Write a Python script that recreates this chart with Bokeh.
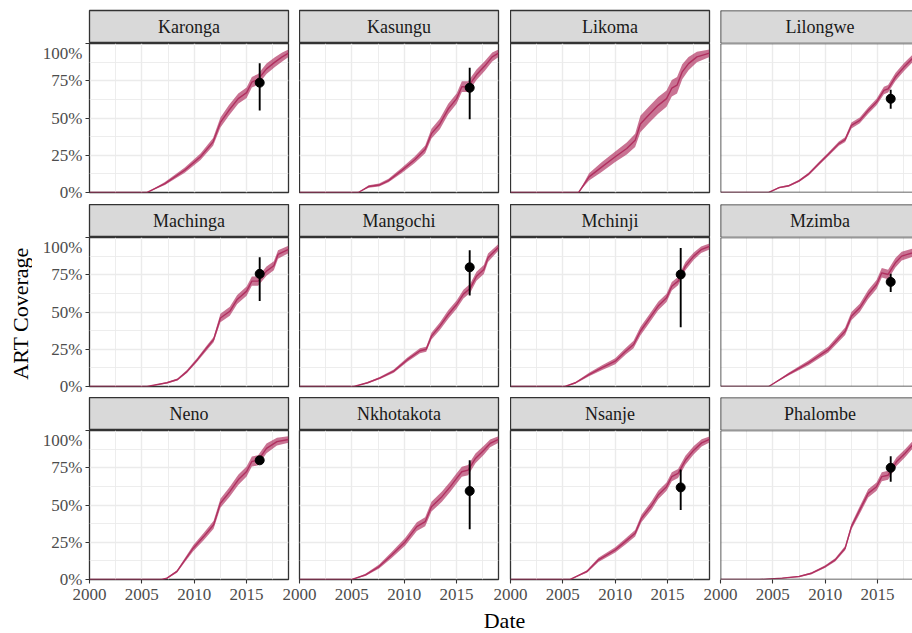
import math
from bokeh.plotting import figure
from bokeh.layouts import row, column
from bokeh.models import Range1d, LinearAxis, FixedTicker, Grid, Span, ColumnDataSource
from bokeh.core.properties import value
from bokeh.embed import file_html
from bokeh.resources import INLINE

# ---------------- data ----------------
DISTRICTS = ["Karonga", "Kasungu", "Likoma", "Lilongwe",
             "Machinga", "Mangochi", "Mchinji", "Mzimba",
             "Neno", "Nkhotakota", "Nsanje", "Phalombe"]

KARONGA_YEAR = [2000, 2005.5, 2007.2, 2009.1, 2010.6, 2011.8, 2012.5, 2013.3, 2014.2, 2015.0, 2015.5, 2016.1, 2016.9, 2017.7, 2018.4, 2019.0]
KARONGA_MID = [0, 0, 0.06, 0.15, 0.24, 0.34, 0.47, 0.55, 0.63, 0.67, 0.74, 0.76, 0.83, 0.875, 0.91, 0.935]
KARONGA_LO = [0, 0, 0.05, 0.132, 0.218, 0.314, 0.437, 0.515, 0.595, 0.635, 0.704, 0.724, 0.795, 0.842, 0.88, 0.91]
KARONGA_HI = [0, 0, 0.07, 0.168, 0.262, 0.366, 0.503, 0.585, 0.665, 0.705, 0.776, 0.796, 0.865, 0.908, 0.94, 0.96]

KASUNGU_YEAR = [2000, 2005.6, 2006.6, 2007.6, 2008.5, 2009.8, 2011.0, 2012.0, 2012.6, 2013.4, 2014.2, 2015.0, 2015.5, 2016.1, 2016.9, 2017.7, 2018.4, 2019.0]
KASUNGU_MID = [0, 0, 0.04, 0.05, 0.08, 0.15, 0.22, 0.29, 0.395, 0.46, 0.56, 0.63, 0.71, 0.71, 0.79, 0.85, 0.91, 0.935]
KASUNGU_LO = [0, 0, 0.032, 0.04, 0.068, 0.132, 0.198, 0.264, 0.362, 0.425, 0.525, 0.595, 0.674, 0.674, 0.755, 0.817, 0.88, 0.91]
KASUNGU_HI = [0, 0, 0.048, 0.06, 0.092, 0.168, 0.242, 0.316, 0.428, 0.495, 0.595, 0.665, 0.746, 0.746, 0.825, 0.883, 0.94, 0.96]

LIKOMA_YEAR = [2000, 2006.5, 2007.5, 2008.7, 2010.0, 2011.1, 2011.9, 2012.4, 2013.2, 2014.1, 2014.9, 2015.4, 2015.9, 2016.4, 2017.0, 2017.8, 2019.0]
LIKOMA_MID = [0, 0, 0.105, 0.17, 0.24, 0.295, 0.35, 0.46, 0.52, 0.585, 0.63, 0.70, 0.72, 0.81, 0.865, 0.91, 0.935]
LIKOMA_LO = [0, 0, 0.08, 0.137, 0.204, 0.255, 0.305, 0.405, 0.464, 0.529, 0.575, 0.645, 0.665, 0.76, 0.82, 0.875, 0.91]
LIKOMA_HI = [0, 0, 0.13, 0.203, 0.276, 0.335, 0.395, 0.515, 0.576, 0.641, 0.685, 0.755, 0.775, 0.86, 0.91, 0.945, 0.96]

LILONGWE_YEAR = [2000, 2004.6, 2005.6, 2006.5, 2007.5, 2008.4, 2009.4, 2010.3, 2011.3, 2011.9, 2012.5, 2013.3, 2014.1, 2014.9, 2015.6, 2016.0, 2016.7, 2017.5, 2018.3, 2019.0]
LILONGWE_MID = [0, 0, 0.033, 0.045, 0.078, 0.123, 0.194, 0.257, 0.328, 0.355, 0.45, 0.484, 0.55, 0.607, 0.685, 0.696, 0.775, 0.84, 0.897, 0.93]
LILONGWE_LO = [0, 0, 0.028, 0.039, 0.07, 0.114, 0.183, 0.245, 0.314, 0.339, 0.43, 0.464, 0.529, 0.585, 0.66, 0.671, 0.748, 0.813, 0.872, 0.908]
LILONGWE_HI = [0, 0, 0.038, 0.051, 0.086, 0.132, 0.205, 0.269, 0.342, 0.371, 0.47, 0.504, 0.571, 0.629, 0.71, 0.721, 0.802, 0.867, 0.922, 0.952]

MACHINGA_YEAR = [2000, 2005.5, 2007.4, 2008.4, 2009.3, 2010.3, 2011.2, 2011.85, 2012.5, 2013.4, 2014.1, 2015.0, 2015.5, 2016.1, 2016.9, 2017.6, 2018.0, 2019.0]
MACHINGA_MID = [0, 0, 0.025, 0.047, 0.10, 0.18, 0.26, 0.315, 0.46, 0.505, 0.584, 0.64, 0.707, 0.707, 0.774, 0.81, 0.886, 0.92]
MACHINGA_LO = [0, 0, 0.02, 0.04, 0.09, 0.167, 0.244, 0.297, 0.432, 0.475, 0.554, 0.609, 0.676, 0.676, 0.743, 0.78, 0.858, 0.895]
MACHINGA_HI = [0, 0, 0.03, 0.054, 0.11, 0.193, 0.276, 0.333, 0.488, 0.535, 0.614, 0.671, 0.738, 0.738, 0.805, 0.84, 0.914, 0.945]

MANGOCHI_YEAR = [2000, 2005.2, 2006.5, 2007.7, 2009.0, 2010.3, 2011.5, 2012.1, 2012.6, 2013.4, 2014.2, 2015.0, 2015.65, 2016.3, 2016.9, 2017.6, 2018.0, 2019.0]
MANGOCHI_MID = [0, 0, 0.025, 0.058, 0.103, 0.18, 0.24, 0.25, 0.338, 0.405, 0.483, 0.55, 0.62, 0.66, 0.74, 0.785, 0.864, 0.935]
MANGOCHI_LO = [0, 0, 0.02, 0.05, 0.092, 0.166, 0.223, 0.233, 0.316, 0.38, 0.455, 0.522, 0.59, 0.63, 0.71, 0.755, 0.836, 0.913]
MANGOCHI_HI = [0, 0, 0.03, 0.066, 0.114, 0.194, 0.257, 0.267, 0.36, 0.43, 0.511, 0.578, 0.65, 0.69, 0.77, 0.815, 0.892, 0.957]

MCHINJI_YEAR = [2000, 2005.2, 2006.2, 2007.5, 2008.7, 2010.0, 2011.0, 2011.75, 2012.4, 2013.3, 2014.1, 2014.9, 2015.4, 2016.0, 2016.7, 2017.5, 2018.2, 2019.0]
MCHINJI_MID = [0, 0, 0.025, 0.08, 0.125, 0.17, 0.237, 0.282, 0.371, 0.46, 0.54, 0.595, 0.673, 0.707, 0.808, 0.875, 0.918, 0.94]
MCHINJI_LO = [0, 0, 0.019, 0.068, 0.109, 0.15, 0.215, 0.257, 0.343, 0.432, 0.512, 0.567, 0.645, 0.679, 0.78, 0.85, 0.896, 0.92]
MCHINJI_HI = [0, 0, 0.031, 0.092, 0.141, 0.19, 0.259, 0.307, 0.399, 0.488, 0.568, 0.623, 0.701, 0.735, 0.836, 0.9, 0.94, 0.96]

MZIMBA_YEAR = [2000, 2004.6, 2006.5, 2008.4, 2010.3, 2011.9, 2012.5, 2013.3, 2014.1, 2014.9, 2015.4, 2016.0, 2016.7, 2017.3, 2018.3, 2019.0]
MZIMBA_MID = [0, 0, 0.083, 0.159, 0.248, 0.371, 0.472, 0.528, 0.617, 0.685, 0.763, 0.752, 0.83, 0.875, 0.897, 0.92]
MZIMBA_LO = [0, 0, 0.073, 0.143, 0.228, 0.346, 0.444, 0.5, 0.587, 0.655, 0.731, 0.72, 0.798, 0.845, 0.869, 0.895]
MZIMBA_HI = [0, 0, 0.093, 0.175, 0.268, 0.396, 0.5, 0.556, 0.647, 0.715, 0.795, 0.784, 0.862, 0.905, 0.925, 0.945]

NENO_YEAR = [2000, 2006.9, 2007.4, 2008.35, 2009.0, 2009.9, 2010.9, 2011.85, 2012.5, 2013.4, 2014.2, 2015.0, 2015.5, 2016.1, 2016.9, 2017.9, 2019.0]
NENO_MID = [0, 0, 0.009, 0.054, 0.12, 0.21, 0.288, 0.367, 0.512, 0.59, 0.669, 0.725, 0.792, 0.80, 0.88, 0.925, 0.94]
NENO_LO = [0, 0, 0.005, 0.046, 0.107, 0.19, 0.264, 0.34, 0.482, 0.557, 0.635, 0.691, 0.758, 0.766, 0.848, 0.899, 0.918]
NENO_HI = [0, 0, 0.013, 0.062, 0.133, 0.23, 0.312, 0.394, 0.542, 0.623, 0.703, 0.759, 0.826, 0.834, 0.912, 0.951, 0.962]

NKHOTAKOTA_YEAR = [2000, 2005.0, 2006.3, 2007.6, 2008.8, 2010.1, 2011.2, 2012.0, 2012.6, 2013.6, 2014.4, 2015.0, 2015.5, 2016.1, 2016.8, 2017.6, 2018.2, 2019.0]
NKHOTAKOTA_MID = [0, 0, 0.031, 0.087, 0.165, 0.254, 0.355, 0.388, 0.489, 0.556, 0.623, 0.679, 0.723, 0.734, 0.8125, 0.868, 0.913, 0.94]
NKHOTAKOTA_LO = [0, 0, 0.024, 0.074, 0.145, 0.228, 0.325, 0.358, 0.456, 0.522, 0.589, 0.645, 0.689, 0.7, 0.7795, 0.838, 0.887, 0.918]
NKHOTAKOTA_HI = [0, 0, 0.038, 0.1, 0.185, 0.28, 0.385, 0.418, 0.522, 0.59, 0.657, 0.713, 0.757, 0.768, 0.8455, 0.898, 0.939, 0.962]

NSANJE_YEAR = [2000, 2005.7, 2007.3, 2008.4, 2010.0, 2010.95, 2011.9, 2012.5, 2013.5, 2014.1, 2014.9, 2015.4, 2016.0, 2016.7, 2017.5, 2018.25, 2019.0]
NSANJE_MID = [0, 0, 0.054, 0.132, 0.199, 0.254, 0.31, 0.41, 0.50, 0.567, 0.623, 0.69, 0.712, 0.80, 0.868, 0.917, 0.94]
NSANJE_LO = [0, 0, 0.046, 0.118, 0.182, 0.234, 0.288, 0.385, 0.472, 0.539, 0.595, 0.66, 0.682, 0.77, 0.84, 0.893, 0.92]
NSANJE_HI = [0, 0, 0.062, 0.146, 0.216, 0.274, 0.332, 0.435, 0.528, 0.595, 0.651, 0.72, 0.742, 0.83, 0.896, 0.941, 0.96]

PHALOMBE_YEAR = [2000, 2003.7, 2005.9, 2007.5, 2008.7, 2010.0, 2010.95, 2011.9, 2012.5, 2013.3, 2014.1, 2014.9, 2015.4, 2016.0, 2016.8, 2017.6, 2018.3, 2019.0]
PHALOMBE_MID = [0, 0, 0.009, 0.02, 0.042, 0.087, 0.132, 0.21, 0.355, 0.467, 0.578, 0.623, 0.69, 0.70, 0.79, 0.846, 0.90, 0.93]
PHALOMBE_LO = [0, 0, 0.006, 0.016, 0.036, 0.079, 0.121, 0.196, 0.335, 0.442, 0.55, 0.595, 0.66, 0.67, 0.762, 0.819, 0.875, 0.908]
PHALOMBE_HI = [0, 0, 0.012, 0.024, 0.048, 0.095, 0.143, 0.224, 0.375, 0.492, 0.606, 0.651, 0.72, 0.73, 0.818, 0.873, 0.925, 0.952]

# survey estimates (None = no survey point)
POINT_YEAR = [2016.25, 2016.25, None, 2016.25, 2016.25, 2016.25, 2016.25, 2016.25, 2016.25, 2016.25, 2016.25, 2016.25]
POINT_VALUE = [0.737, 0.703, None, 0.629, 0.756, 0.80, 0.752, 0.702, 0.80, 0.594, 0.618, 0.75]
POINT_LO = [0.551, 0.491, None, 0.5625, 0.573, 0.611, 0.398, 0.635, 0.795, 0.337, 0.4665, 0.656]
POINT_HI = [0.868, 0.837, None, 0.69, 0.868, 0.915, 0.93, 0.756, 0.81, 0.80, 0.739, 0.828]

X_TICKS = [2000, 2005, 2010, 2015]
X_TICK_LABELS = ["2000", "2005", "2010", "2015"]
X_MINOR = [2002.5, 2007.5, 2012.5, 2017.5]
Y_TICKS = [0, 0.25, 0.5, 0.75, 1.0]
Y_TICK_LABELS = ["0%", "25%", "50%", "75%", "100%"]
Y_MINOR = [0.125, 0.375, 0.625, 0.875]
X_START, X_END = 2000, 2019

SERIES = {
    "Karonga": (KARONGA_YEAR, KARONGA_MID, KARONGA_LO, KARONGA_HI),
    "Kasungu": (KASUNGU_YEAR, KASUNGU_MID, KASUNGU_LO, KASUNGU_HI),
    "Likoma": (LIKOMA_YEAR, LIKOMA_MID, LIKOMA_LO, LIKOMA_HI),
    "Lilongwe": (LILONGWE_YEAR, LILONGWE_MID, LILONGWE_LO, LILONGWE_HI),
    "Machinga": (MACHINGA_YEAR, MACHINGA_MID, MACHINGA_LO, MACHINGA_HI),
    "Mangochi": (MANGOCHI_YEAR, MANGOCHI_MID, MANGOCHI_LO, MANGOCHI_HI),
    "Mchinji": (MCHINJI_YEAR, MCHINJI_MID, MCHINJI_LO, MCHINJI_HI),
    "Mzimba": (MZIMBA_YEAR, MZIMBA_MID, MZIMBA_LO, MZIMBA_HI),
    "Neno": (NENO_YEAR, NENO_MID, NENO_LO, NENO_HI),
    "Nkhotakota": (NKHOTAKOTA_YEAR, NKHOTAKOTA_MID, NKHOTAKOTA_LO, NKHOTAKOTA_HI),
    "Nsanje": (NSANJE_YEAR, NSANJE_MID, NSANJE_LO, NSANJE_HI),
    "Phalombe": (PHALOMBE_YEAR, PHALOMBE_MID, PHALOMBE_LO, PHALOMBE_HI),
}

# ---------------- style / layout ----------------
FONT = "Liberation Serif"
MAROON = "#B03060"
BORDER = "#333333"
GRID_C = "#EBEBEB"
STRIP_BG = "#D9D9D9"
TICK_TXT = "#4D4D4D"

YTITLE_W = 32
LEFT0 = 57           # left border of first column (y tick labels)
FRAME_W = [199, 199, 199, 192]
GAP_R = [11, 12, 11, 0]
TOP0 = 10
STRIP_H = 33
PANEL_H = 149
ROW_GAP = [12, 11, 29]
XTITLE_H = 24
LABEL_OVERHANG = 17
X_ENDS = [X_END, X_END, X_END, X_START + (X_END - X_START) * FRAME_W[3] / FRAME_W[0]]


def base_fig(w, h, x_end, ml, mr, mt, mb, **kw):
    return figure(width=w, height=h, x_range=Range1d(X_START, x_end), y_range=Range1d(0, 1),
                  x_axis_type=None, y_axis_type=None, output_backend="svg",
                  toolbar_location=None, min_border=0, min_border_left=ml,
                  min_border_right=mr, min_border_top=mt, min_border_bottom=mb,
                  border_fill_alpha=0, **kw)


def open_border(fig):
    fig.outline_line_color = None
    fig.add_layout(Span(location=X_START, dimension="height", line_color=BORDER, line_width=1.6))
    fig.add_layout(Span(location=0, dimension="width", line_color=BORDER, line_width=1.6))
    fig.add_layout(Span(location=1, dimension="width", line_color=BORDER, line_width=1.6))


def make_strip(r, c, name):
    ml = LEFT0 if c == 0 else 0
    mt = TOP0 if r == 0 else 0
    s = base_fig(ml + FRAME_W[c] + GAP_R[c], STRIP_H + mt, X_ENDS[c], ml, GAP_R[c], mt, 0,
                 background_fill_color=STRIP_BG, outline_line_color=BORDER,
                 outline_line_width=1.3)
    s.text(x=[(X_START + X_END) / 2], y=[0.5], text=[name], text_align="center",
           text_baseline="middle", text_font=value(FONT), text_font_size="18px",
           text_color="#1A1A1A")
    if c == 3:
        open_border(s)
    return s


def make_panel(r, c, i):
    name = DISTRICTS[i]
    bottom = r == 2
    extra = LABEL_OVERHANG if (bottom and c > 0) else 0
    ml = LEFT0 if c == 0 else extra
    p = base_fig(ml + FRAME_W[c] + GAP_R[c], PANEL_H + ROW_GAP[r], X_ENDS[c], ml, GAP_R[c], 0,
                 ROW_GAP[r], background_fill_color="white", outline_line_color=BORDER,
                 outline_line_width=1.3)
    if extra:
        p.margin = (0, 0, 0, -extra)

    p.add_layout(Grid(dimension=0, ticker=FixedTicker(ticks=X_TICKS, minor_ticks=X_MINOR),
                      grid_line_color=GRID_C, grid_line_width=1.4,
                      minor_grid_line_color=GRID_C, minor_grid_line_width=0.9))
    p.add_layout(Grid(dimension=1, ticker=FixedTicker(ticks=Y_TICKS, minor_ticks=Y_MINOR),
                      grid_line_color=GRID_C, grid_line_width=1.4,
                      minor_grid_line_color=GRID_C, minor_grid_line_width=0.9))

    yr, mid, lo, hi = SERIES[name]
    src = ColumnDataSource(dict(year=yr, mid=mid, lo=lo, hi=hi))
    p.varea(x="year", y1="lo", y2="hi", source=src, fill_color=MAROON, fill_alpha=0.68)
    p.line(x="year", y="mid", source=src, line_color=MAROON, line_width=1.4)

    if POINT_VALUE[i] is not None:
        psrc = ColumnDataSource(dict(x=[POINT_YEAR[i]], y=[POINT_VALUE[i]],
                                     lo=[POINT_LO[i]], hi=[POINT_HI[i]]))
        p.segment(x0="x", y0="lo", x1="x", y1="hi", source=psrc, line_color="black",
                  line_width=1.9)
        p.scatter(x="x", y="y", source=psrc, size=9, fill_color="black", line_color="black")

    axis_kw = dict(axis_line_color=None, major_tick_in=0, major_tick_out=4,
                   minor_tick_in=0, minor_tick_out=0, major_tick_line_color=BORDER,
                   major_tick_line_width=1.1, major_label_text_font=FONT,
                   major_label_text_font_size="17px", major_label_text_color=TICK_TXT)
    if c == 0:
        ya = LinearAxis(ticker=FixedTicker(ticks=Y_TICKS), major_label_standoff=3,
                        major_label_overrides={float(t): l for t, l in zip(Y_TICKS, Y_TICK_LABELS)},
                        **axis_kw)
        p.add_layout(ya, "left")
    if bottom:
        xa = LinearAxis(ticker=FixedTicker(ticks=X_TICKS), major_label_standoff=5,
                        major_label_overrides={float(t): l for t, l in zip(X_TICKS, X_TICK_LABELS)},
                        **axis_kw)
        p.add_layout(xa, "below")
    if c == 3:
        open_border(p)
    return p


rows = []
for r in range(3):
    strips = [make_strip(r, c, DISTRICTS[r * 4 + c]) for c in range(4)]
    panels = [make_panel(r, c, r * 4 + c) for c in range(4)]
    rows.append(row(*strips, spacing=0))
    rows.append(row(*panels, spacing=0))
grid_col = column(*rows, spacing=0)

grid_h = TOP0 + 3 * (STRIP_H + PANEL_H) + sum(ROW_GAP)
ytitle = figure(width=YTITLE_W, height=grid_h, x_range=Range1d(0, YTITLE_W),
                y_range=Range1d(0, grid_h), x_axis_type=None, y_axis_type=None,
                output_backend="svg", toolbar_location=None, min_border=0,
                outline_line_color=None, border_fill_alpha=0, background_fill_alpha=0)
ytitle.text(x=[20], y=[grid_h - 313], text=["ART Coverage"], angle=math.pi / 2,
            text_align="center", text_baseline="middle", text_font=value(FONT),
            text_font_size="22px", text_color="black")

total_w = YTITLE_W + LEFT0 + sum(FRAME_W) + sum(GAP_R)
xtitle = figure(width=total_w, height=XTITLE_H, x_range=Range1d(0, total_w),
                y_range=Range1d(0, XTITLE_H), x_axis_type=None, y_axis_type=None,
                output_backend="svg", toolbar_location=None, min_border=0,
                outline_line_color=None, border_fill_alpha=0, background_fill_alpha=0)
xtitle.text(x=[YTITLE_W + LEFT0 + (FRAME_W[0] * 4 + GAP_R[0] * 2 + GAP_R[1]) / 2],
            y=[XTITLE_H - 12], text=["Date"], text_align="center", text_baseline="middle",
            text_font=value(FONT), text_font_size="22px", text_color="black")

layout = column(row(ytitle, grid_col, spacing=0), xtitle, spacing=0)

open("out.html", "w").write(file_html(layout, INLINE))
